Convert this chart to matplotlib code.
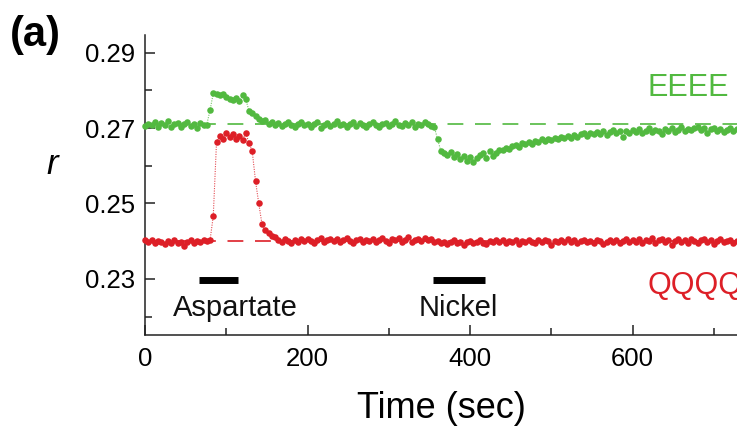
import numpy as np
import matplotlib
matplotlib.use("Agg")
import matplotlib.pyplot as plt
from matplotlib.ticker import MultipleLocator, FormatStrFormatter

plt.rcParams['font.family'] = ['Liberation Sans', 'DejaVu Sans']

time_s = np.arange(0, 729, 4)

eeee = [
    0.2705, 0.2712, 0.2708, 0.2716, 0.2702, 0.2713, 0.2709, 0.2718, 0.2704, 0.2711,
    0.2714, 0.2703, 0.2710, 0.2716, 0.2706, 0.2712, 0.2701, 0.2713, 0.2707, 0.2709,
    0.2747, 0.2792, 0.2791, 0.2789, 0.2790, 0.2783, 0.2778, 0.2774, 0.2779, 0.2772,
    0.2787, 0.2776, 0.2746, 0.2740, 0.2731, 0.2725, 0.2718, 0.2722, 0.2712, 0.2716,
    0.2709, 0.2714, 0.2706, 0.2712, 0.2717, 0.2708, 0.2703, 0.2711, 0.2715, 0.2707,
    0.2712, 0.2704, 0.2710, 0.2716, 0.2701, 0.2709, 0.2713, 0.2706, 0.2711, 0.2718,
    0.2707, 0.2712, 0.2703, 0.2710, 0.2715, 0.2706, 0.2713, 0.2708, 0.2704, 0.2712,
    0.2717, 0.2709, 0.2702, 0.2711, 0.2714, 0.2706, 0.2712, 0.2719, 0.2708, 0.2705,
    0.2713, 0.2709, 0.2716, 0.2704, 0.2711, 0.2707, 0.2715, 0.2712, 0.2706, 0.2703,
    0.2672, 0.2640, 0.2634, 0.2628, 0.2636, 0.2622, 0.2630, 0.2618, 0.2627, 0.2614,
    0.2624, 0.2611, 0.2620, 0.2629, 0.2633, 0.2621, 0.2638, 0.2627, 0.2635, 0.2642,
    0.2641, 0.2648, 0.2644, 0.2652, 0.2655, 0.2650, 0.2660, 0.2657, 0.2663, 0.2659,
    0.2667, 0.2663, 0.2670, 0.2666, 0.2672, 0.2668, 0.2675, 0.2670, 0.2677, 0.2673,
    0.2679, 0.2675, 0.2682, 0.2677, 0.2684, 0.2688, 0.2680, 0.2686, 0.2683, 0.2690,
    0.2685, 0.2692, 0.2681, 0.2689, 0.2694, 0.2686, 0.2691, 0.2676, 0.2693, 0.2688,
    0.2695, 0.2690, 0.2697, 0.2687, 0.2693, 0.2699, 0.2689, 0.2696, 0.2692, 0.2685,
    0.2698, 0.2693, 0.2700, 0.2689, 0.2696, 0.2702, 0.2691, 0.2697, 0.2694, 0.2699,
    0.2703, 0.2695, 0.2700, 0.2688, 0.2697, 0.2701, 0.2693, 0.2698, 0.2690, 0.2696,
    0.2700, 0.2693, 0.2697,
]

qqqq = [
    0.2402, 0.2398, 0.2404, 0.2395, 0.2401, 0.2397, 0.2392, 0.2400, 0.2396, 0.2403,
    0.2394, 0.2399, 0.2388, 0.2397, 0.2404, 0.2396, 0.2401, 0.2398, 0.2403, 0.2400,
    0.2402, 0.2466, 0.2662, 0.2680, 0.2672, 0.2688, 0.2676, 0.2684, 0.2672, 0.2678,
    0.2669, 0.2687, 0.2660, 0.2638, 0.2560, 0.2500, 0.2445, 0.2430, 0.2422, 0.2414,
    0.2410, 0.2404, 0.2398, 0.2406, 0.2401, 0.2395, 0.2403, 0.2399, 0.2405, 0.2400,
    0.2407, 0.2401, 0.2396, 0.2404, 0.2409, 0.2398, 0.2403, 0.2406, 0.2400, 0.2405,
    0.2397, 0.2404, 0.2408, 0.2401, 0.2395, 0.2403, 0.2407, 0.2399, 0.2404, 0.2401,
    0.2406, 0.2398, 0.2403, 0.2409, 0.2400, 0.2394, 0.2405, 0.2402, 0.2408, 0.2399,
    0.2404, 0.2410, 0.2397, 0.2403, 0.2406, 0.2400, 0.2408, 0.2402, 0.2405, 0.2398,
    0.2401, 0.2395, 0.2399, 0.2393, 0.2398, 0.2402, 0.2394, 0.2399, 0.2390, 0.2397,
    0.2401, 0.2395, 0.2399, 0.2404, 0.2396, 0.2392, 0.2400, 0.2397, 0.2402, 0.2398,
    0.2403, 0.2396, 0.2401, 0.2398, 0.2404, 0.2393, 0.2400, 0.2397, 0.2403, 0.2399,
    0.2395, 0.2402, 0.2398, 0.2404, 0.2400, 0.2391, 0.2401, 0.2397, 0.2403, 0.2399,
    0.2405, 0.2398, 0.2402, 0.2394, 0.2400, 0.2404, 0.2397, 0.2401, 0.2396, 0.2403,
    0.2400, 0.2392, 0.2399, 0.2404, 0.2397, 0.2402, 0.2395, 0.2401, 0.2406, 0.2398,
    0.2403, 0.2399, 0.2407, 0.2396, 0.2404, 0.2401, 0.2408, 0.2394, 0.2402, 0.2405,
    0.2398, 0.2404, 0.2391, 0.2401, 0.2406, 0.2399, 0.2403, 0.2396, 0.2405, 0.2400,
    0.2394, 0.2402, 0.2407, 0.2398, 0.2403, 0.2392, 0.2400, 0.2405, 0.2397, 0.2401,
    0.2404, 0.2396, 0.2401,
]

baseline_eeee = 0.2711
baseline_qqqq = 0.2401

stim_names = ["Aspartate", "Nickel"]
stim_start = [66, 354]
stim_end = [114, 419]

series_names = ["EEEE", "QQQQ"]

GREEN = "#52b940"
RED = "#dd1f27"

fig = plt.figure(figsize=(7.37, 4.29), dpi=100)
ax = fig.add_axes([145/737, 1-335/429, 592/737, 300/429])

ax.axhline(baseline_eeee, color=GREEN, lw=1.2, dashes=(9.5, 7), zorder=1)
ax.axhline(baseline_qqqq, color=RED, lw=1.2, dashes=(9.5, 7), zorder=1)

for vals, col in [(eeee, GREEN), (qqqq, RED)]:
    ax.plot(time_s, vals, color=col, lw=0.8, ls=(0, (1, 1.2)), alpha=0.8, zorder=2, clip_on=False)
    ax.plot(time_s, vals, ls='none', marker='o', ms=4.7, mfc=col, mec=col, mew=0, zorder=3, clip_on=False)

ax.set_xlim(0, 728.6)
ax.set_ylim(0.2151, 0.2947)

ax.xaxis.set_major_locator(MultipleLocator(200))
ax.xaxis.set_minor_locator(MultipleLocator(100))
ax.set_yticks([0.23, 0.25, 0.27, 0.29])
ax.set_yticks([0.22, 0.24, 0.26, 0.28], minor=True)
ax.yaxis.set_major_formatter(FormatStrFormatter('%.2f'))

for s in ['top', 'right']:
    ax.spines[s].set_visible(False)
for s in ['left', 'bottom']:
    ax.spines[s].set_linewidth(1.1)
    ax.spines[s].set_color('#222222')

ax.tick_params(which='major', direction='in', length=7, width=1.1, labelsize=18.5, pad=7, color='#222222')
ax.tick_params(which='minor', direction='in', length=5, width=1.1, color='#222222')
ax.tick_params(axis='x', which='major', pad=9)

# stimulus bars and labels
ybar = 0.2296
ylab = 0.2222
label_x = [111, 385]
for name, a, b, lx in zip(stim_names, stim_start, stim_end, label_x):
    ax.plot([a, b], [ybar, ybar], color='black', lw=5, solid_capstyle='butt', zorder=4)
    ax.text(lx, ylab, name, fontsize=21, ha='center', va='center', color='#111111')

ax.text(619, 0.2807, series_names[0], color=GREEN, fontsize=22, ha='left', va='center')
ax.text(619, 0.2282, series_names[1], color=RED, fontsize=22, ha='left', va='center', clip_on=False)

ax.set_xlabel("Time (sec)", fontsize=26, labelpad=14)
fig.text(52/737, 1-165/429, "r", fontsize=25, style='italic', ha='center', va='center')
fig.text(10/737, 1-35/429, "(a)", fontsize=30, fontweight='bold', ha='left', va='center')

fig.savefig("out.png", dpi=100)
